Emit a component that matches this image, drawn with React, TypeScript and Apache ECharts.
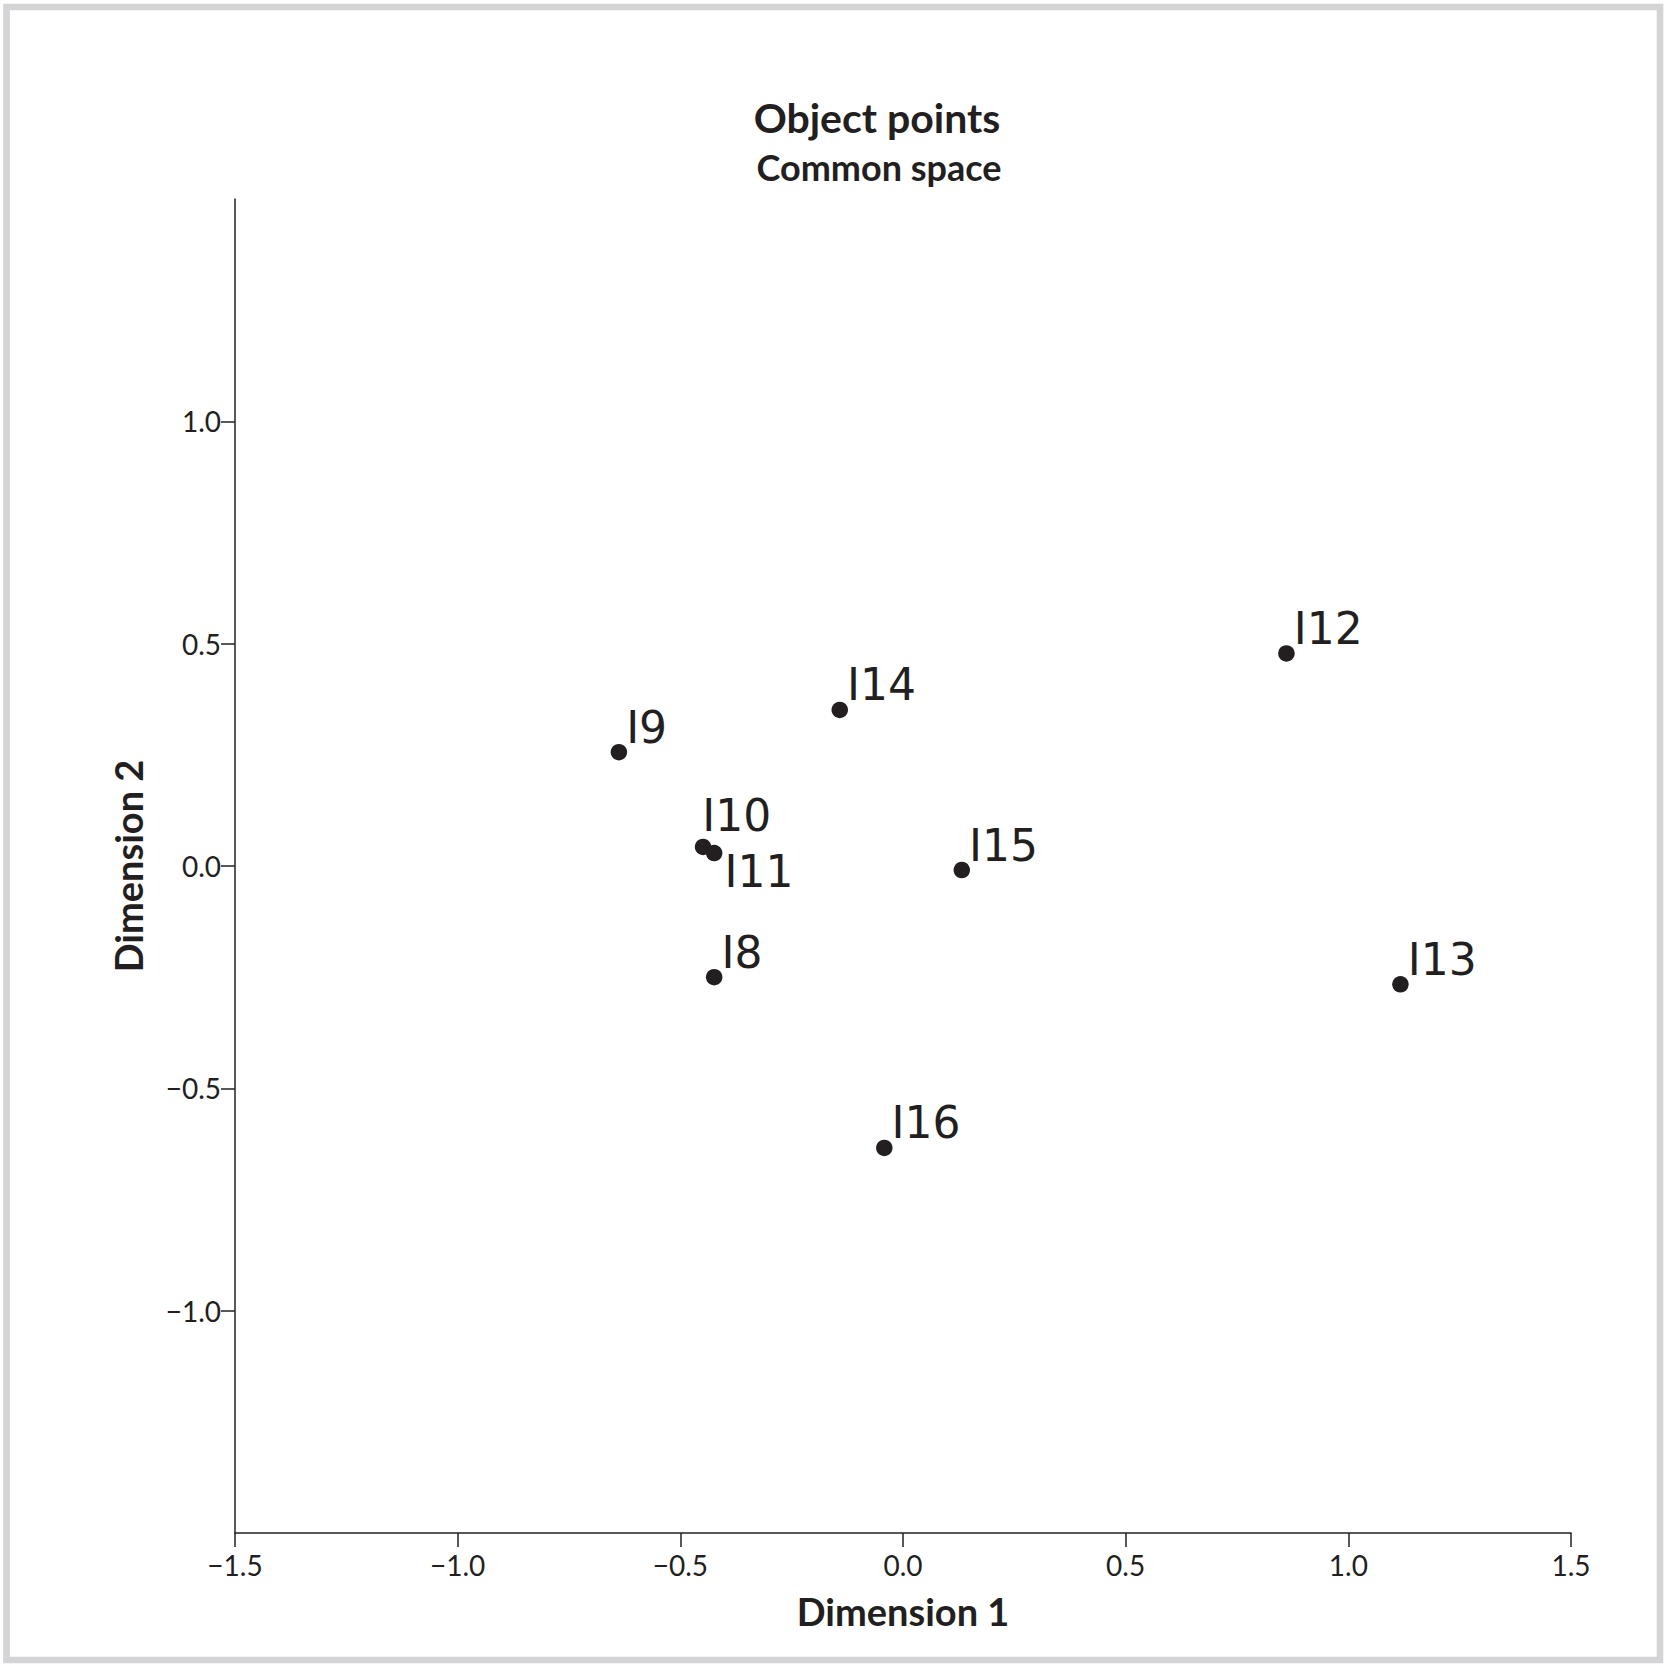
import React, { useEffect, useRef } from "react";
import * as echarts from "echarts";

const pointNames = ["I8", "I9", "I10", "I11", "I12", "I13", "I14", "I15", "I16"];
const dimension1 = [-0.424, -0.638, -0.449, -0.424, 0.861, 1.117, -0.142, 0.132, -0.042];
const dimension2 = [-0.25, 0.256, 0.043, 0.029, 0.478, -0.266, 0.351, -0.009, -0.634];
const xTicks = [-1.5, -1.0, -0.5, 0.0, 0.5, 1.0, 1.5];
const yTicks = [-1.0, -0.5, 0.0, 0.5, 1.0];

const INK = "#231f20";
const SANS = "Lato, 'Open Sans', sans-serif";
const LABEL_FONT = "'DejaVu Sans', Verdana, sans-serif";

const fmt = (v: number) => v.toFixed(1).replace("-", "\u2212");

// label placement tweaks (style, not data)
const defaultLabel = { position: "right", distance: -1, offset: [0, -25] };
const labelOverrides: Record<string, any> = {
  I10: { position: "right", distance: -9, offset: [0, -31] },
  I11: { position: "right", distance: 2, offset: [0, 18] },
};

export default function App() {
  const ref = useRef<HTMLDivElement>(null);
  useEffect(() => {
    if (!ref.current) return;
    const chart = echarts.init(ref.current, undefined, { renderer: "svg" });
    const data = pointNames.map((n, i) => {
      const lab = labelOverrides[n] || defaultLabel;
      return {
        name: n,
        value: [dimension1[i], dimension2[i]],
        label: { ...lab },
      };
    });
    chart.setOption({
      animation: false,
      backgroundColor: "#ffffff",
      graphic: [
        {
          type: "rect",
          shape: { x: 6.5, y: 7, width: 1653.5, height: 1653 },
          style: { fill: "none", stroke: "#d4d4d6", lineWidth: 6.6 },
          silent: true,
        },
        {
          type: "text",
          x: 877,
          y: 117,
          style: {
            text: "Object points",
            font: `bold 41px ${SANS}`,
            fill: INK,
            align: "center",
            verticalAlign: "middle",
          },
        },
        {
          type: "text",
          x: 879,
          y: 167,
          style: {
            text: "Common space",
            font: `bold 36px ${SANS}`,
            fill: INK,
            align: "center",
            verticalAlign: "middle",
          },
        },
      ],
      grid: {
        left: 235,
        right: 96,
        top: 199,
        bottom: 134,
        outerBoundsMode: "none",
      },
      xAxis: {
        type: "value",
        min: -1.5,
        max: 1.5,
        interval: 0.5,
        name: "Dimension 1",
        nameLocation: "middle",
        nameGap: 59,
        nameTextStyle: { fontFamily: SANS, fontWeight: "bold", fontSize: 38, color: INK },
        axisLine: { show: true, onZero: false, lineStyle: { color: INK, width: 1.5 } },
        axisTick: { show: true, length: 14, lineStyle: { color: INK, width: 1.5 }, customValues: xTicks },
        axisLabel: {
          margin: 18,
          fontFamily: SANS,
          fontSize: 28,
          color: INK,
          customValues: xTicks,
          formatter: (v: number) => fmt(v),
        },
        splitLine: { show: false },
      },
      yAxis: {
        type: "value",
        min: -1.5,
        max: 1.5,
        interval: 0.5,
        name: "Dimension 2",
        nameLocation: "middle",
        nameRotate: 90,
        nameGap: 88,
        nameTextStyle: { fontFamily: SANS, fontWeight: "bold", fontSize: 38, color: INK },
        axisLine: { show: true, onZero: false, lineStyle: { color: INK, width: 1.5 } },
        axisTick: { show: true, length: 14, lineStyle: { color: INK, width: 1.5 }, customValues: yTicks },
        axisLabel: {
          margin: 14,
          fontFamily: SANS,
          fontSize: 28,
          color: INK,
          customValues: yTicks,
          formatter: (v: number) => fmt(v),
        },
        splitLine: { show: false },
      },
      series: [
        {
          type: "scatter",
          symbol: "circle",
          symbolSize: 16.5,
          itemStyle: { color: INK, opacity: 1 },
          data,
          label: {
            show: true,
            formatter: "{b}",
            fontFamily: LABEL_FONT,
            fontSize: 44,
            color: INK,
            opacity: 1,
          },
          emphasis: { disabled: true },
        },
      ],
    });
    return () => chart.dispose();
  }, []);
  return (
    <div
      ref={ref}
      style={{ position: "fixed", left: 0, top: 0, width: 1667, height: 1667, background: "#fff" }}
    />
  );
}
